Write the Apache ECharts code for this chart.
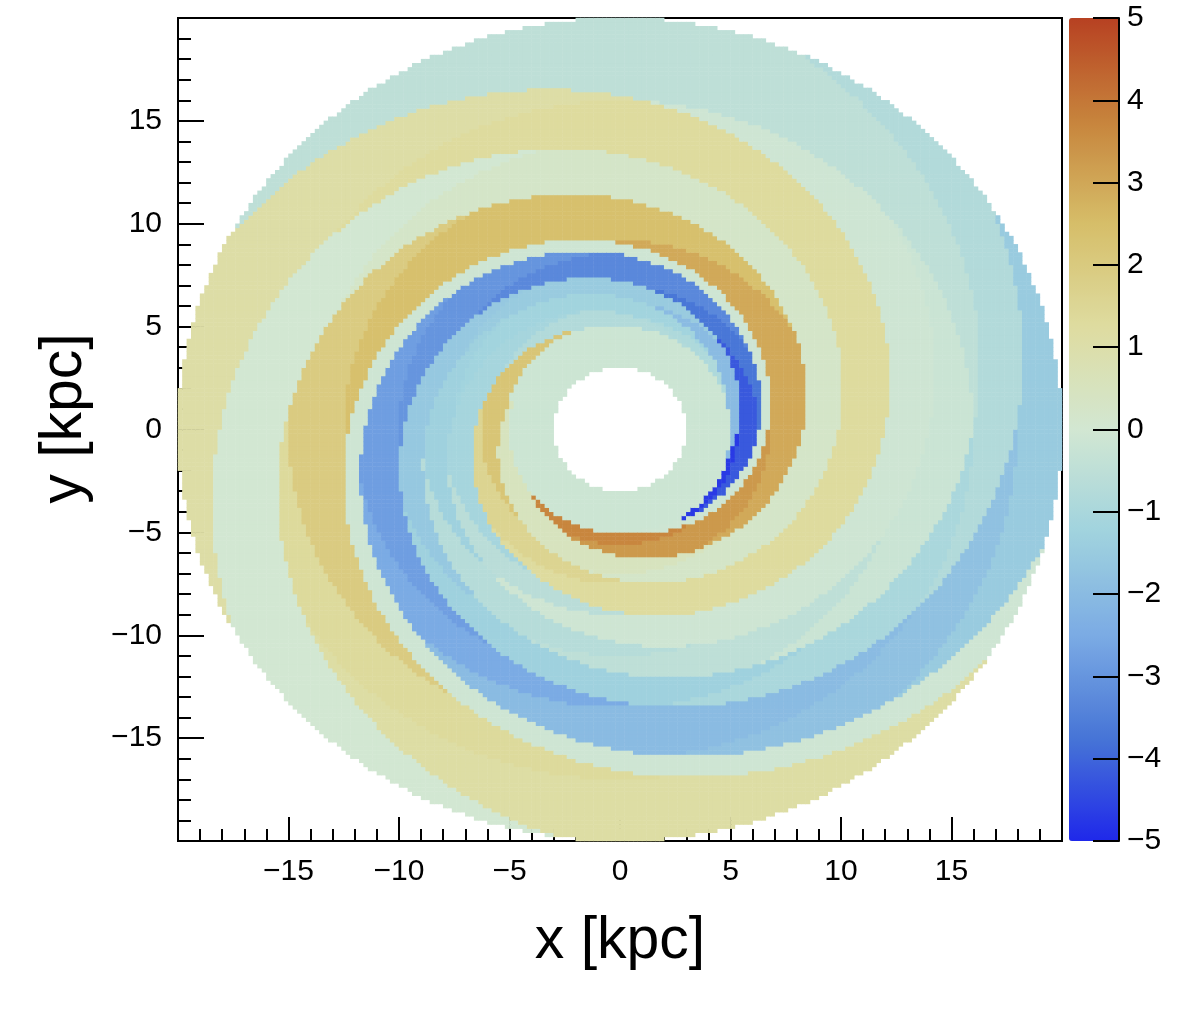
<!DOCTYPE html>
<html>
<head>
<meta charset="utf-8">
<script src="https://cdn.jsdelivr.net/npm/echarts@6/dist/echarts.min.js"></script>
<style>
html, body { margin: 0; background: #fff; }
#main { width: 1182px; height: 1021px; }
</style>
</head>
<body>
<div id="main"></div>
<script>
// histogram binning (kpc)
var binLo = -20, binWidth = 0.2, nBins = 200;
var rHole = 3, rEdge = 20;
// below this radius the arms are absent
var rStart = 5.0;
var innerValue = -0.15;

// spiral winding: ln r grows by 1/windK per radian
var windK = 5.2;

// bands, given by the radius where they cross the +x axis
var bandEdges = [5.35, 6.3, 6.7, 8.3, 9.9, 12.0, 14.0, 16.0, 17.9];

var armB_r = [0, 5.1, 5.35, 6.3, 7.0, 8.6, 10, 12, 13.5, 16, 18];
var armB_v = [-0.15, -4.7, -4.2, -3.7, -3.3, -3.0, -2.8, -2.5, -2.0, -1.8, -1.5];
var gap1_r = [0];
var gap1_v = [-0.1];
var armO_r = [0, 5.05, 5.6, 6.8, 9.2, 12.5, 15, 17];
var armO_v = [-0.15, 3.7, 3.3, 2.95, 2.4, 1.95, 1.35, 1.15];
var gap2_r = [0, 7, 14];
var gap2_v = [0.5, 0.25, 0.0];
var armY_r = [0, 5.2, 6.3, 7.5, 16];
var armY_v = [-0.15, 2.2, 1.6, 1.3, 1.1];
var gapG1_r = [0, 6, 8, 9, 16];
var gapG1_v = [-0.8, -1.1, -0.6, -0.1, -0.5];
var gapG2_r = [0, 5.5, 7.5, 9, 11, 13, 16];
var gapG2_v = [-0.9, -1.2, -1.3, -0.7, -0.5, -0.2, -0.5];
var gapG3_r = [0, 6.2, 8, 10.5, 13.5, 16];
var gapG3_v = [-2.0, -1.5, -1.6, -1.3, -1.0, -0.8];

var bands = [
    [armB_r, armB_v], [gap1_r, gap1_v], [armO_r, armO_v], [gap2_r, gap2_v],
    [armY_r, armY_v], [gapG1_r, gapG1_v], [gapG2_r, gapG2_v], [gapG3_r, gapG3_v]
];

// colour bar
var zMin = -5, zMax = 5;
var palette = ['#1f28ea', '#4775d6', '#7babe4', '#a0d3de', '#d2e7d2',
               '#dedca0', '#d6be69', '#c7843c', '#b74122'];

function stepValue(rs, vs, r) {
    var v = vs[0];
    for (var i = 0; i < rs.length; i++) {
        if (r >= rs[i]) v = vs[i];
    }
    return v;
}

function cellValue(x, y) {
    var r = Math.sqrt(x * x + y * y);
    if (r < rStart) return innerValue;
    var phi = Math.atan2(y, x);
    if (phi < 0) phi += 2 * Math.PI;
    var period = Math.exp(2 * Math.PI / windK);
    var rho = r * Math.exp(-phi / windK);
    var last = bandEdges[bandEdges.length - 1];
    while (rho < bandEdges[0]) rho *= period;
    while (rho >= last) rho /= period;
    var b = 0;
    while (b < bands.length - 1 && rho >= bandEdges[b + 1]) b++;
    return stepValue(bands[b][0], bands[b][1], r);
}

var cats = [];
for (var i = 0; i < nBins; i++) cats.push(i);

var cells = [];
for (var i = 0; i < nBins; i++) {
    for (var j = 0; j < nBins; j++) {
        var x = binLo + (i + 0.5) * binWidth;
        var y = binLo + (j + 0.5) * binWidth;
        var r = Math.sqrt(x * x + y * y);
        if (r < rHole || r > rEdge) continue;
        cells.push([i, j, cellValue(x, y)]);
    }
}

function minusLabel(v) {
    if (Math.abs(v) === 20) return '';
    return v < 0 ? '\u2212' + Math.abs(v) : String(v);
}

var labelFont = 'Liberation Sans';

var option = {
    animation: false,
    backgroundColor: '#ffffff',
    grid: [
        { left: 178, top: 18, width: 884, height: 823, show: true, borderColor: '#000', borderWidth: 2 },
        { left: 1069, top: 18, width: 50, height: 823, show: false }
    ],
    xAxis: [
        { type: 'category', gridIndex: 0, data: cats, show: false },
        {
            type: 'value', gridIndex: 0, min: -20, max: 20, interval: 5, position: 'bottom',
            axisLine: { show: true, onZero: false, lineStyle: { color: '#000', width: 2 } },
            axisTick: { show: true, inside: true, length: 24, lineStyle: { color: '#000', width: 2 } },
            minorTick: { show: true, splitNumber: 5, length: 12, lineStyle: { color: '#000', width: 2 } },
            splitLine: { show: false },
            axisLabel: { formatter: minusLabel, fontSize: 30, color: '#000', margin: 16, fontFamily: labelFont },
            name: 'x [kpc]', nameLocation: 'middle', nameGap: 71,
            nameTextStyle: { fontSize: 59, color: '#000', fontFamily: labelFont }
        },
        { type: 'value', gridIndex: 1, show: false, min: 0, max: 1 }
    ],
    yAxis: [
        { type: 'category', gridIndex: 0, data: cats, show: false },
        {
            type: 'value', gridIndex: 0, min: -20, max: 20, interval: 5, position: 'left',
            axisLine: { show: true, onZero: false, lineStyle: { color: '#000', width: 2 } },
            axisTick: { show: true, inside: true, length: 26, lineStyle: { color: '#000', width: 2 } },
            minorTick: { show: true, splitNumber: 5, length: 13, lineStyle: { color: '#000', width: 2 } },
            splitLine: { show: false },
            axisLabel: { formatter: minusLabel, fontSize: 30, color: '#000', margin: 16, fontFamily: labelFont },
            name: 'y [kpc]', nameLocation: 'middle', nameGap: 84, nameRotate: 90,
            nameTextStyle: { fontSize: 59, color: '#000', fontFamily: labelFont, padding: [0, 0, 0, 22] }
        },
        {
            type: 'value', gridIndex: 1, min: zMin, max: zMax, interval: 1, position: 'right', z: 10,
            axisLine: { show: true, onZero: false, lineStyle: { color: '#000', width: 2 } },
            axisTick: { show: true, inside: true, length: 26, lineStyle: { color: '#000', width: 2 } },
            splitLine: { show: false },
            axisLabel: {
                formatter: function (v) { return v < 0 ? '\u2212' + Math.abs(v) : String(v); },
                fontSize: 30, color: '#000', margin: 8, fontFamily: labelFont
            }
        }
    ],
    visualMap: {
        type: 'continuous', min: zMin, max: zMax, seriesIndex: 0,
        calculable: false, show: true, left: 1069, top: 18, padding: 0,
        itemWidth: 50, itemHeight: 823, text: ['', ''], showLabel: false,
        inRange: { color: palette }
    },
    series: [{
        type: 'heatmap', xAxisIndex: 0, yAxisIndex: 0,
        data: cells, progressive: 0,
        itemStyle: { borderWidth: 0 },
        emphasis: { disabled: true }
    }]
};

var myChart = echarts.init(document.getElementById('main'));
myChart.setOption(option);
</script>
</body>
</html>
